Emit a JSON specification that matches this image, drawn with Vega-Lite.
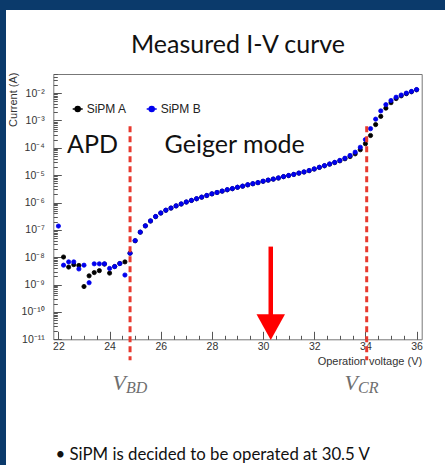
{
  "$schema": "https://vega.github.io/schema/vega-lite/v6.json",
  "autosize": "none",
  "width": 439,
  "height": 455,
  "padding": {"left": 6, "top": 10, "right": 0, "bottom": 0},
  "background": "#0b3a6b",
  "config": {
    "view": {"fill": "white", "stroke": null},
    "axis": {"grid": false, "zindex": 1}
  },
  "title": {
    "text": "Measured I-V curve",
    "font": "Lato",
    "fontSize": 25,
    "fontWeight": "normal",
    "color": "#111111",
    "frame": "group",
    "anchor": "middle",
    "baseline": "alphabetic",
    "offset": -68,
    "dx": 12.5
  },
  "datasets": {
    "iv": [
      {"v": 22.0, "SiPM B": 1.38e-7},
      {"v": 22.2, "SiPM A": 1.02e-8, "SiPM B": 5.13e-9},
      {"v": 22.4, "SiPM A": 4.37e-9, "SiPM B": 6.76e-9},
      {"v": 22.6, "SiPM A": 5.37e-9, "SiPM B": 6.76e-9},
      {"v": 22.8, "SiPM A": 5.01e-9, "SiPM B": 3.72e-9},
      {"v": 23.0, "SiPM A": 8.51e-10, "SiPM B": 5.13e-9},
      {"v": 23.2, "SiPM A": 2.09e-9, "SiPM B": 1.17e-9},
      {"v": 23.4, "SiPM A": 2.75e-9, "SiPM B": 5.75e-9},
      {"v": 23.6, "SiPM A": 3.24e-9, "SiPM B": 5.75e-9},
      {"v": 23.8, "SiPM A": 5.62e-9, "SiPM B": 5.75e-9},
      {"v": 24.0, "SiPM A": 2.63e-9, "SiPM B": 3.89e-9},
      {"v": 24.2, "SiPM A": 4.57e-9, "SiPM B": 4.57e-9},
      {"v": 24.4, "SiPM A": 5.89e-9, "SiPM B": 5.89e-9},
      {"v": 24.6, "SiPM A": 6.76e-9, "SiPM B": 2.24e-9},
      {"v": 24.8, "SiPM A": 1.41e-8, "SiPM B": 1.41e-8},
      {"v": 25.0, "SiPM A": 4.0e-8, "SiPM B": 4.07e-8},
      {"v": 25.2, "SiPM A": 8.2e-8, "SiPM B": 8.32e-8},
      {"v": 25.4, "SiPM A": 1.4e-7, "SiPM B": 1.41e-7},
      {"v": 25.6, "SiPM A": 2.1e-7, "SiPM B": 2.14e-7},
      {"v": 25.8, "SiPM A": 3.05e-7, "SiPM B": 3.09e-7},
      {"v": 26.0, "SiPM A": 4.1e-7, "SiPM B": 4.17e-7},
      {"v": 26.2, "SiPM A": 5.2e-7, "SiPM B": 5.25e-7},
      {"v": 26.4, "SiPM A": 6.25e-7, "SiPM B": 6.31e-7},
      {"v": 26.6, "SiPM A": 7.5e-7, "SiPM B": 7.59e-7},
      {"v": 26.8, "SiPM A": 8.8e-7, "SiPM B": 8.91e-7},
      {"v": 27.0, "SiPM A": 1.04e-6, "SiPM B": 1.05e-6},
      {"v": 27.2, "SiPM A": 1.19e-6, "SiPM B": 1.2e-6},
      {"v": 27.4, "SiPM A": 1.37e-6, "SiPM B": 1.38e-6},
      {"v": 27.6, "SiPM A": 1.56e-6, "SiPM B": 1.58e-6},
      {"v": 27.8, "SiPM A": 1.8e-6, "SiPM B": 1.82e-6},
      {"v": 28.0, "SiPM A": 2.07e-6, "SiPM B": 2.09e-6},
      {"v": 28.2, "SiPM A": 2.32e-6, "SiPM B": 2.34e-6},
      {"v": 28.4, "SiPM A": 2.6e-6, "SiPM B": 2.63e-6},
      {"v": 28.6, "SiPM A": 2.92e-6, "SiPM B": 2.95e-6},
      {"v": 28.8, "SiPM A": 3.2e-6, "SiPM B": 3.24e-6},
      {"v": 29.0, "SiPM A": 3.6e-6, "SiPM B": 3.63e-6},
      {"v": 29.2, "SiPM A": 3.94e-6, "SiPM B": 3.98e-6},
      {"v": 29.4, "SiPM A": 4.42e-6, "SiPM B": 4.47e-6},
      {"v": 29.6, "SiPM A": 4.85e-6, "SiPM B": 4.9e-6},
      {"v": 29.8, "SiPM A": 5.3e-6, "SiPM B": 5.37e-6},
      {"v": 30.0, "SiPM A": 5.95e-6, "SiPM B": 6.03e-6},
      {"v": 30.2, "SiPM A": 6.55e-6, "SiPM B": 6.61e-6},
      {"v": 30.4, "SiPM A": 7.15e-6, "SiPM B": 7.24e-6},
      {"v": 30.6, "SiPM A": 7.85e-6, "SiPM B": 7.94e-6},
      {"v": 30.8, "SiPM A": 8.8e-6, "SiPM B": 8.91e-6},
      {"v": 31.0, "SiPM A": 9.65e-6, "SiPM B": 9.77e-6},
      {"v": 31.2, "SiPM A": 1.06e-5, "SiPM B": 1.07e-5},
      {"v": 31.4, "SiPM A": 1.18e-5, "SiPM B": 1.2e-5},
      {"v": 31.6, "SiPM A": 1.3e-5, "SiPM B": 1.32e-5},
      {"v": 31.8, "SiPM A": 1.46e-5, "SiPM B": 1.48e-5},
      {"v": 32.0, "SiPM A": 1.67e-5, "SiPM B": 1.7e-5},
      {"v": 32.2, "SiPM A": 1.92e-5, "SiPM B": 1.95e-5},
      {"v": 32.4, "SiPM A": 2.2e-5, "SiPM B": 2.24e-5},
      {"v": 32.6, "SiPM A": 2.52e-5, "SiPM B": 2.57e-5},
      {"v": 32.8, "SiPM A": 2.88e-5, "SiPM B": 2.95e-5},
      {"v": 33.0, "SiPM A": 3.35e-5, "SiPM B": 3.47e-5},
      {"v": 33.2, "SiPM A": 3.98e-5, "SiPM B": 4.17e-5},
      {"v": 33.4, "SiPM A": 4.79e-5, "SiPM B": 5.25e-5},
      {"v": 33.6, "SiPM A": 6.03e-5, "SiPM B": 6.92e-5},
      {"v": 33.8, "SiPM A": 8.51e-5, "SiPM B": 1.05e-4},
      {"v": 34.0, "SiPM A": 1.41e-4, "SiPM B": 2.0e-4},
      {"v": 34.2, "SiPM A": 2.82e-4, "SiPM B": 5.01e-4},
      {"v": 34.4, "SiPM A": 7.08e-4, "SiPM B": 1.12e-3},
      {"v": 34.6, "SiPM A": 1.41e-3, "SiPM B": 2.24e-3},
      {"v": 34.8, "SiPM A": 2.82e-3, "SiPM B": 3.8e-3},
      {"v": 35.0, "SiPM A": 4.47e-3, "SiPM B": 5.37e-3},
      {"v": 35.2, "SiPM A": 6.31e-3, "SiPM B": 7.08e-3},
      {"v": 35.4, "SiPM A": 7.94e-3, "SiPM B": 8.51e-3},
      {"v": 35.6, "SiPM A": 9.55e-3, "SiPM B": 1.0e-2},
      {"v": 35.8, "SiPM A": 1.12e-2, "SiPM B": 1.15e-2},
      {"v": 36.0, "SiPM A": 1.32e-2, "SiPM B": 1.35e-2}
    ],
    "marks": [
      {"name": "V_BD", "v": 24.8, "top": 6.2e-4, "bottom": 1.7e-12},
      {"name": "V_CR", "v": 34.05, "top": 6.2e-4, "bottom": 1.7e-12}
    ],
    "arrow": [
      {"v": 30.3, "top": 2.45e-8, "bottom": 6e-11, "head": 2.78e-11}
    ],
    "regions": [
      {"label": "APD", "v": 22.34, "at": 6.46e-5},
      {"label": "Geiger mode", "v": 26.15, "at": 6.46e-5}
    ],
    "symbols": [
      {"label": "V", "v": 24.64, "at": 1.4e-13},
      {"label": "V", "v": 33.71, "at": 1.4e-13}
    ],
    "subscripts": [
      {"label": "BD", "v": 24.64, "at": 1.05e-13},
      {"label": "CR", "v": 33.71, "at": 1.05e-13}
    ]
  },
  "layer": [
    {
      "data": {"name": "iv"},
      "transform": [{"fold": ["SiPM A", "SiPM B"], "as": ["series", "current"]}],
      "mark": {"type": "point", "filled": true, "size": 18, "strokeWidth": 0.8, "opacity": 1},
      "encoding": {
        "x": {
          "field": "v", "type": "quantitative",
          "scale": {"type": "linear", "domain": [21.8, 36.2], "range": [47.3, 415.7], "nice": false, "zero": false},
          "axis": {
            "orient": "bottom", "offset": -125.7,
            "values": [22, 24, 26, 28, 30, 32, 34, 36], "format": "d",
            "ticks": false, "domain": true, "domainColor": "#777777", "domainWidth": 1,
            "labelFont": "Liberation Sans", "labelFontSize": 10.5, "labelColor": "#333333",
            "labelPadding": 2, "labelFlush": false, "labelOverlap": false,
            "title": "Operation voltage (V)", "titleFont": "Liberation Sans", "titleFontSize": 11,
            "titleFontWeight": "normal", "titleColor": "#333333",
            "titleX": 415.7, "titleY": 25, "titleAlign": "right", "titleBaseline": "alphabetic"
          }
        },
        "y": {
          "field": "current", "type": "quantitative",
          "scale": {"type": "log", "domain": [1e-11, 0.05], "range": [329.3, 64], "nice": false},
          "axis": {
            "orient": "left", "offset": -47.3,
            "values": [1e-11, 1e-10, 1e-9, 1e-8, 1e-7, 1e-6, 1e-5, 1e-4, 1e-3, 1e-2],
            "labelExpr": "datum.value < 5e-11 ? '10⁻¹¹' : datum.value < 5e-10 ? '10⁻¹⁰' : datum.value < 5e-9 ? '10⁻⁹' : datum.value < 5e-8 ? '10⁻⁸' : datum.value < 5e-7 ? '10⁻⁷' : datum.value < 5e-6 ? '10⁻⁶' : datum.value < 5e-5 ? '10⁻⁵' : datum.value < 5e-4 ? '10⁻⁴' : datum.value < 5e-3 ? '10⁻³' : '10⁻²'",
            "ticks": false, "domain": true, "domainColor": "#777777", "domainWidth": 1,
            "labelFont": "Liberation Sans", "labelFontSize": 10.5, "labelColor": "#333333",
            "labelPadding": 9, "labelOverlap": false, "labelFlush": false,
            "title": "Current (A)", "titleFont": "Liberation Sans", "titleFontSize": 11,
            "titleFontWeight": "normal", "titleColor": "#333333",
            "titleAngle": 270, "titleAlign": "right", "titleBaseline": "middle",
            "titleX": -40, "titleY": 62
          }
        },
        "fill": {
          "field": "series", "type": "nominal",
          "scale": {"domain": ["SiPM A", "SiPM B"], "range": ["#000000", "#0000ee"]},
          "legend": {
            "title": null, "orient": "none", "legendX": 65.7, "legendY": 93,
            "direction": "horizontal", "padding": 0, "columnPadding": 16, "labelOffset": 3,
            "symbolType": "M-1,0H1M-0.5,0A0.5,0.5,0,1,1,0.5,0A0.5,0.5,0,1,1,-0.5,0Z",
            "symbolSize": 100, "symbolStrokeWidth": 1.5,
            "labelFont": "Liberation Sans", "labelFontSize": 12, "labelColor": "#222222"
          }
        },
        "stroke": {
          "field": "series", "type": "nominal",
          "scale": {"domain": ["SiPM A", "SiPM B"], "range": ["#000000", "#0000ee"]},
          "legend": {
            "title": null, "orient": "none", "legendX": 65.7, "legendY": 93,
            "direction": "horizontal", "padding": 0, "columnPadding": 16, "labelOffset": 3,
            "symbolType": "M-1,0H1M-0.5,0A0.5,0.5,0,1,1,0.5,0A0.5,0.5,0,1,1,-0.5,0Z",
            "symbolSize": 100, "symbolStrokeWidth": 1.5,
            "labelFont": "Liberation Sans", "labelFontSize": 12, "labelColor": "#222222"
          }
        },
        "order": {"field": "series", "type": "nominal"}
      }
    },
    {
      "data": {"name": "marks"},
      "mark": {"type": "rule", "color": "#e8392e", "strokeWidth": 3, "strokeDash": [6, 4]},
      "encoding": {
        "x": {
          "field": "v", "type": "quantitative",
          "scale": {"type": "linear", "domain": [21.8, 36.2], "range": [47.3, 415.7], "nice": false, "zero": false},
          "axis": {
            "orient": "bottom", "offset": -125.7,
            "values": [22.5, 23, 23.5, 24.5, 25, 25.5, 26.5, 27, 27.5, 28.5, 29, 29.5, 30.5, 31, 31.5, 32.5, 33, 33.5, 34.5, 35, 35.5],
            "labels": false, "domain": false, "ticks": true, "tickSize": -4, "tickColor": "#555555", "tickWidth": 1,
            "title": null
          }
        },
        "y": {
          "field": "top", "type": "quantitative",
          "scale": {"type": "log", "domain": [1e-11, 0.05], "range": [329.3, 64], "nice": false},
          "axis": {
            "orient": "left", "offset": -47.3,
            "values": [2e-11, 3e-11, 4e-11, 5e-11, 6e-11, 7e-11, 8e-11, 9e-11,
                       2e-10, 3e-10, 4e-10, 5e-10, 6e-10, 7e-10, 8e-10, 9e-10,
                       2e-9, 3e-9, 4e-9, 5e-9, 6e-9, 7e-9, 8e-9, 9e-9,
                       2e-8, 3e-8, 4e-8, 5e-8, 6e-8, 7e-8, 8e-8, 9e-8,
                       2e-7, 3e-7, 4e-7, 5e-7, 6e-7, 7e-7, 8e-7, 9e-7,
                       2e-6, 3e-6, 4e-6, 5e-6, 6e-6, 7e-6, 8e-6, 9e-6,
                       2e-5, 3e-5, 4e-5, 5e-5, 6e-5, 7e-5, 8e-5, 9e-5,
                       2e-4, 3e-4, 4e-4, 5e-4, 6e-4, 7e-4, 8e-4, 9e-4,
                       2e-3, 3e-3, 4e-3, 5e-3, 6e-3, 7e-3, 8e-3, 9e-3,
                       2e-2, 3e-2, 4e-2, 5e-2],
            "labels": false, "domain": false, "ticks": true, "tickSize": -4, "tickColor": "#555555", "tickWidth": 1,
            "title": null
          }
        },
        "y2": {"field": "bottom"}
      }
    },
    {
      "data": {"name": "arrow"},
      "mark": {"type": "rule", "color": "#ff0000", "strokeWidth": 4.5},
      "encoding": {
        "x": {
          "field": "v", "type": "quantitative",
          "scale": {"type": "linear", "domain": [21.8, 36.2], "range": [47.3, 415.7], "nice": false, "zero": false},
          "axis": {
            "orient": "bottom", "offset": -125.7,
            "values": [22, 24, 26, 28, 30, 32, 34, 36],
            "labels": false, "domain": false, "ticks": true, "tickSize": -8, "tickColor": "#555555", "tickWidth": 1,
            "title": null
          }
        },
        "y": {
          "field": "top", "type": "quantitative",
          "scale": {"type": "log", "domain": [1e-11, 0.05], "range": [329.3, 64], "nice": false},
          "axis": {
            "orient": "left", "offset": -47.3,
            "values": [1e-11, 1e-10, 1e-9, 1e-8, 1e-7, 1e-6, 1e-5, 1e-4, 1e-3, 1e-2],
            "labels": false, "domain": false, "ticks": true, "tickSize": -8, "tickColor": "#555555", "tickWidth": 1,
            "title": null
          }
        },
        "y2": {"field": "bottom"}
      }
    },
    {
      "data": {"name": "arrow"},
      "mark": {"type": "point", "filled": true, "color": "#ff0000", "opacity": 1, "strokeWidth": 0,
               "shape": "M-1,-0.9L1,-0.9L0,0.9Z", "size": 812},
      "encoding": {
        "x": {
          "field": "v", "type": "quantitative",
          "scale": {"type": "linear", "domain": [21.8, 36.2], "range": [47.3, 415.7], "nice": false, "zero": false},
          "axis": {
            "orient": "top", "offset": -64,
            "labels": false, "ticks": false, "domain": true, "domainColor": "#777777", "domainWidth": 1,
            "title": null
          }
        },
        "y": {
          "field": "head", "type": "quantitative",
          "scale": {"type": "log", "domain": [1e-11, 0.05], "range": [329.3, 64], "nice": false},
          "axis": {
            "orient": "right", "offset": -23.3,
            "labels": false, "ticks": false, "domain": true, "domainColor": "#777777", "domainWidth": 1,
            "title": null
          }
        }
      }
    },
    {
      "data": {"name": "regions"},
      "mark": {"type": "text", "font": "Lato", "fontSize": 25, "color": "#111111", "align": "left", "baseline": "alphabetic"},
      "encoding": {
        "x": {
          "field": "v", "type": "quantitative",
          "scale": {"type": "linear", "domain": [21.8, 36.2], "range": [47.3, 415.7], "nice": false, "zero": false},
          "axis": {
            "orient": "bottom", "offset": -125.7,
            "labels": false, "ticks": false, "domain": false,
            "title": "• SiPM is decided to be operated at 30.5 V",
            "titleFont": "Lato", "titleFontSize": 16.8, "titleFontWeight": "normal", "titleColor": "#111111",
            "titleX": 49, "titleY": 120, "titleAlign": "left", "titleBaseline": "alphabetic"
          }
        },
        "y": {
          "field": "at", "type": "quantitative",
          "scale": {"type": "log", "domain": [1e-11, 0.05], "range": [329.3, 64], "nice": false},
          "axis": null
        },
        "text": {"field": "label"}
      }
    },
    {
      "data": {"name": "symbols"},
      "mark": {"type": "text", "font": "Liberation Serif", "fontStyle": "italic", "fontSize": 22, "color": "#6e6e6e", "align": "right", "baseline": "alphabetic"},
      "encoding": {
        "x": {
          "field": "v", "type": "quantitative",
          "scale": {"type": "linear", "domain": [21.8, 36.2], "range": [47.3, 415.7], "nice": false, "zero": false},
          "axis": null
        },
        "y": {
          "field": "at", "type": "quantitative",
          "scale": {"type": "log", "domain": [1e-11, 0.05], "range": [329.3, 64], "nice": false},
          "axis": null
        },
        "text": {"field": "label"}
      }
    },
    {
      "data": {"name": "subscripts"},
      "mark": {"type": "text", "font": "Liberation Serif", "fontStyle": "italic", "fontSize": 16, "color": "#6e6e6e", "align": "left", "baseline": "alphabetic"},
      "encoding": {
        "x": {
          "field": "v", "type": "quantitative",
          "scale": {"type": "linear", "domain": [21.8, 36.2], "range": [47.3, 415.7], "nice": false, "zero": false},
          "axis": null
        },
        "y": {
          "field": "at", "type": "quantitative",
          "scale": {"type": "log", "domain": [1e-11, 0.05], "range": [329.3, 64], "nice": false},
          "axis": null
        },
        "text": {"field": "label"}
      }
    }
  ],
  "resolve": {"axis": {"x": "independent", "y": "independent"}}
}
